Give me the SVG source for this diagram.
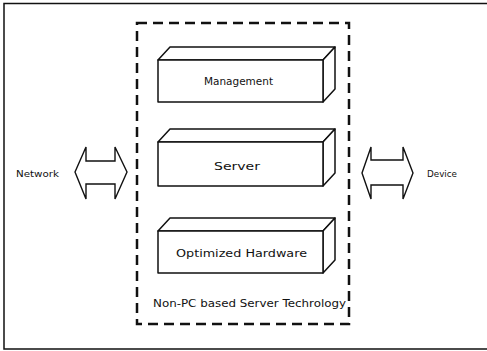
<svg xmlns="http://www.w3.org/2000/svg" width="487" height="351" viewBox="0 0 487 351">
<style>
.bx{fill:#fff;stroke:#111;stroke-width:1.5;stroke-linejoin:round}
.ar{fill:#fff;stroke:#111;stroke-width:1.4;stroke-linejoin:miter}
.t{font-family:"DejaVu Sans","Liberation Sans",sans-serif;font-size:11px;fill:#111}
.s{font-family:"DejaVu Sans","Liberation Sans",sans-serif;font-size:9.5px;fill:#111}
</style>
<rect width="487" height="351" fill="#fff"/>
<g id="frame" fill="none" stroke="#111" stroke-width="1.5">
<path d="M487 3.5H4V349H487"/>
</g>
<g id="tech">
<rect x="137" y="23" width="212" height="301" fill="none" stroke="#111" stroke-width="2.5" stroke-dasharray="10,6"/>
<text class="t" x="153" y="307" textLength="193" lengthAdjust="spacingAndGlyphs">Non-PC based Server Techrology</text>
</g>
<g id="management">
<path class="bx" d="M158 60L170 47H335L323 60Z"/>
<path class="bx" d="M323 60L335 47V89L323 102Z"/>
<rect class="bx" x="158" y="60" width="165" height="42"/>
<text class="t" x="204" y="85" textLength="69" lengthAdjust="spacingAndGlyphs">Management</text>
</g>
<g id="server">
<path class="bx" d="M158 142L170 129H335L323 142Z"/>
<path class="bx" d="M323 142L335 129V173L323 186Z"/>
<rect class="bx" x="158" y="142" width="165" height="44"/>
<text class="t" x="214" y="170" textLength="46" lengthAdjust="spacingAndGlyphs">Server</text>
</g>
<g id="hardware">
<path class="bx" d="M158 231L170 218H335L323 231Z"/>
<path class="bx" d="M323 231L335 218V260L323 273Z"/>
<rect class="bx" x="158" y="231" width="165" height="42"/>
<text class="t" x="176" y="257" textLength="131" lengthAdjust="spacingAndGlyphs">Optimized Hardware</text>
</g>
<g id="network">
<text class="s" x="16" y="177" textLength="43" lengthAdjust="spacingAndGlyphs">Network</text>
</g>
<g id="device">
<text class="s" x="427" y="177" textLength="30" lengthAdjust="spacingAndGlyphs">Device</text>
</g>
<g id="connectors">
<path class="ar" d="M75 172L86 147V161H115V147L127 172L115 199V184H86V199Z"/>
<path class="ar" d="M362 173L371 147V160H403V147L413 173L403 199V185H371V199Z"/>
</g>
</svg>
